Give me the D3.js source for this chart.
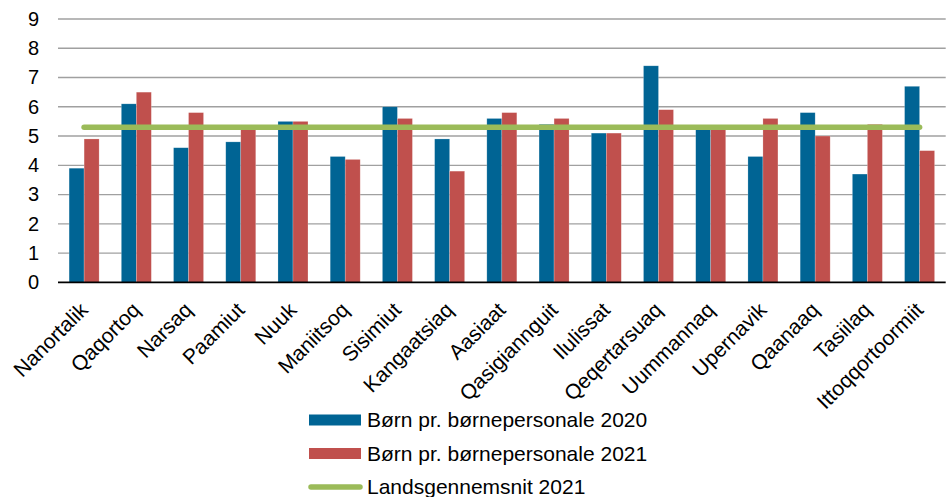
<!DOCTYPE html>
<html lang="da">
<head>
  <meta charset="UTF-8">
  <title>Børn pr. børnepersonale</title>
  <script src="https://cdn.jsdelivr.net/npm/d3@7"></script>
  <style>
    body { margin: 0; background: #fff; }
    svg { font-family: "Liberation Sans", Arial, sans-serif; }
  </style>
</head>
<body>
  <svg id="chart" width="949" height="497"></svg>
  <script>
    // Data
    const towns = ["Nanortalik", "Qaqortoq", "Narsaq", "Paamiut", "Nuuk", "Maniitsoq",
      "Sisimiut", "Kangaatsiaq", "Aasiaat", "Qasigiannguit", "Ilulissat", "Qeqertarsuaq",
      "Uummannaq", "Upernavik", "Qaanaaq", "Tasiilaq", "Ittoqqortoormiit"];
    const values2020 = [3.9, 6.1, 4.6, 4.8, 5.5, 4.3, 6.0, 4.9, 5.6, 5.4, 5.1, 7.4, 5.3, 4.3, 5.8, 3.7, 6.7];
    const values2021 = [4.9, 6.5, 5.8, 5.3, 5.5, 4.2, 5.6, 3.8, 5.8, 5.6, 5.1, 5.9, 5.3, 5.6, 5.0, 5.4, 4.5];
    const nationalAvg2021 = 5.3;
    const yTicks = [0, 1, 2, 3, 4, 5, 6, 7, 8, 9];

    const series = [
      { key: "Børn pr. børnepersonale 2020", values: values2020, color: "#006494" },
      { key: "Børn pr. børnepersonale 2021", values: values2021, color: "#c0504d" }
    ];
    const avgLabel = "Landsgennemsnit 2021";
    const avgColor = "#9bbb59";

    const svg = d3.select("#chart");
    const plotLeft = 58, plotRight = 945.7, plotTop = 19, plotBottom = 282.3;

    const x0 = d3.scaleBand().domain(towns).range([plotLeft, plotRight]).padding(0);
    const x1 = d3.scaleBand().domain(series.map(s => s.key))
        .range([0, x0.bandwidth()]).paddingInner(0).paddingOuter(0.74);
    const y = d3.scaleLinear().domain([0, 9]).range([plotBottom, plotTop]);

    // gridlines
    svg.append("g")
      .selectAll("line")
      .data(yTicks.slice(1))
      .join("line")
        .attr("x1", plotLeft).attr("x2", plotRight)
        .attr("y1", d => y(d)).attr("y2", d => y(d))
        .attr("stroke", "#a0a0a0")
        .attr("stroke-width", 1.3);

    // y axis labels
    const yAxis = svg.append("g")
        .attr("transform", `translate(${plotLeft},0)`)
        .call(d3.axisLeft(y).tickValues(yTicks).tickSize(0).tickPadding(19));
    yAxis.select(".domain").remove();
    yAxis.selectAll("text")
        .attr("font-size", 20)
        .attr("font-family", "Liberation Sans, Arial, sans-serif")
        .attr("fill", "#000");

    // bars
    svg.append("g")
      .selectAll("g")
      .data(towns)
      .join("g")
        .attr("transform", d => `translate(${x0(d)},0)`)
      .selectAll("rect")
      .data((d, i) => series.map(s => ({ key: s.key, value: s.values[i], color: s.color })))
      .join("rect")
        .attr("x", d => x1(d.key))
        .attr("width", x1.bandwidth())
        .attr("y", d => y(d.value))
        .attr("height", d => y(0) - y(d.value))
        .attr("fill", d => d.color)
        .attr("stroke", "rgba(255,255,255,0.35)")
        .attr("stroke-width", 0.6);

    // x axis line
    svg.append("line")
        .attr("x1", plotLeft).attr("x2", plotRight)
        .attr("y1", y(0)).attr("y2", y(0))
        .attr("stroke", "#000")
        .attr("stroke-width", 1.8);

    // x labels, rotated
    svg.append("g")
      .selectAll("text")
      .data(towns)
      .join("text")
        .attr("transform", d => `translate(${x0(d) + x0.bandwidth() / 2 + 5},${y(0) + 29}) rotate(-45)`)
        .attr("text-anchor", "end")
        .attr("font-size", 21)
        .attr("fill", "#000")
        .text(d => d);

    // national average line
    const cx = d => x0(d) + x0.bandwidth() / 2;
    svg.append("line")
        .attr("x1", cx(towns[0]))
        .attr("x2", cx(towns[towns.length - 1]))
        .attr("y1", y(nationalAvg2021))
        .attr("y2", y(nationalAvg2021))
        .attr("stroke", avgColor)
        .attr("stroke-width", 5.5)
        .attr("stroke-linecap", "round");

    // legend
    const legend = svg.append("g").attr("transform", "translate(309,420)");
    series.forEach((s, i) => {
      const g = legend.append("g").attr("transform", `translate(0,${i * 33.5})`);
      g.append("rect").attr("x", 0).attr("y", -5.5).attr("width", 52).attr("height", 11).attr("fill", s.color);
      g.append("text").attr("x", 58).attr("dy", "0.35em").attr("font-size", 21).text(s.key);
    });
    const ga = legend.append("g").attr("transform", "translate(0,67)");
    ga.append("line").attr("x1", 2).attr("x2", 51).attr("stroke", avgColor)
      .attr("stroke-width", 5.5).attr("stroke-linecap", "round");
    ga.append("text").attr("x", 58).attr("dy", "0.35em").attr("font-size", 21).text(avgLabel);
  </script>
</body>
</html>
